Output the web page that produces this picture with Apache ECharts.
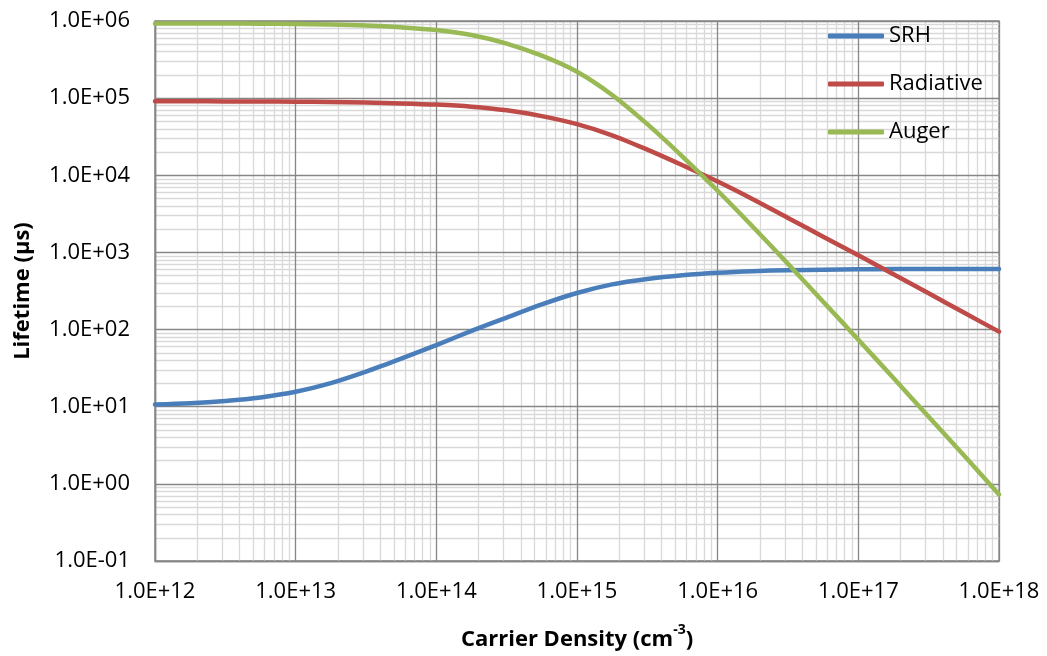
<!DOCTYPE html>
<html>
<head>
<meta charset="utf-8">
<title>Carrier lifetime vs carrier density</title>
<script src="https://cdn.jsdelivr.net/npm/echarts@6/dist/echarts.min.js"></script>
<style>
  html, body { margin: 0; padding: 0; background: #fff; }
  #chart { width: 1047px; height: 656px; }
</style>
</head>
<body>
<div id="chart"></div>
<script>
// Carrier density sample points (cm^-3), quarter-decade spacing
const densities = [
  1e12, 1.778e12, 3.162e12, 5.623e12,
  1e13, 1.778e13, 3.162e13, 5.623e13,
  1e14, 1.778e14, 3.162e14, 5.623e14,
  1e15, 1.778e15, 3.162e15, 5.623e15,
  1e16, 1.778e16, 3.162e16, 5.623e16,
  1e17, 1.778e17, 3.162e17, 5.623e17,
  1e18
];

// Lifetimes (µs) for each recombination mechanism
const srh = [
  10.7, 11.1, 11.9, 13.2,
  15.6, 20.2, 28.5, 42,
  63, 96, 143, 212,
  298, 385, 452, 505,
  545, 572, 588, 598,
  604, 608, 610, 611,
  612
];
const radiative = [
  9.1e4, 9.1e4, 9.08e4, 9.05e4,
  9.0e4, 8.9e4, 8.75e4, 8.55e4,
  8.25e4, 7.75e4, 6.95e4, 5.85e4,
  4.6e4, 3.3e4, 2.15e4, 1.35e4,
  8.3e3, 4.9e3, 2.8e3, 1.6e3,
  920, 520, 295, 166,
  94
];
const auger = [
  9.3e5, 9.3e5, 9.28e5, 9.22e5,
  9.13e5, 8.98e5, 8.72e5, 8.28e5,
  7.65e5, 6.6e5, 5.1e5, 3.55e5,
  2.2e5, 1.1e5, 4.6e4, 1.75e4,
  6.3e3, 2.15e3, 710, 230,
  74, 23.5, 7.4, 2.35,
  0.73
];

const seriesNames = ['SRH', 'Radiative', 'Auger'];
const seriesColors = ['#4A7EBB', '#BE4B48', '#98B954'];

// Axis ranges (decades)
const xDecades = [12, 13, 14, 15, 16, 17, 18];
const yDecades = [-1, 0, 1, 2, 3, 4, 5, 6];

const FONT = '"Open Sans", "Liberation Sans", sans-serif';

// 1.0E+06 style labels
function sci(v) {
  const e = Math.round(Math.log10(v));
  const m = v / Math.pow(10, e);
  return m.toFixed(1) + 'E' + (e < 0 ? '-' : '+') + String(Math.abs(e)).padStart(2, '0');
}

// Minor grid lines at 2..9 × 10^n inside each decade
function minorLines(decades, key) {
  const out = [];
  for (let i = 0; i < decades.length - 1; i++) {
    const base = Math.pow(10, decades[i]);
    for (let k = 2; k <= 9; k++) out.push({ [key]: k * base });
  }
  return out;
}

function pairs(ys) {
  return densities.map((x, i) => [x, ys[i]]);
}

const chart = echarts.init(document.getElementById('chart'), null, { renderer: 'canvas' });

const lineSeries = [srh, radiative, auger].map((ys, i) => ({
  name: seriesNames[i],
  type: 'line',
  data: pairs(ys),
  smooth: 0.3,
  showSymbol: false,
  symbol: 'none',
  z: 3,
  lineStyle: { color: seriesColors[i], width: 4.5, cap: 'round', join: 'round' },
  itemStyle: { color: seriesColors[i] },
  emphasis: { disabled: true },
  animation: false
}));

const gridSeries = {
  name: 'minor-grid',
  type: 'line',
  data: [],
  silent: true,
  animation: false,
  markLine: {
    silent: true,
    z: 0,
    animation: false,
    symbol: ['none', 'none'],
    label: { show: false },
    emphasis: { disabled: true },
    lineStyle: { color: '#D9D9D9', width: 1.3, type: 'solid' },
    data: minorLines(xDecades, 'xAxis').concat(minorLines(yDecades, 'yAxis'))
  }
};

chart.setOption({
  backgroundColor: '#ffffff',
  animation: false,
  textStyle: { fontFamily: FONT },
  grid: {
    left: 155, right: 48, top: 21, bottom: 88,
    show: true, borderColor: '#868686', borderWidth: 1.3,
    containLabel: false
  },
  legend: {
    data: seriesNames,
    orient: 'vertical',
    left: 823,
    top: 19,
    itemGap: 24,
    itemWidth: 56,
    itemHeight: 5,
    icon: 'roundRect',
    selectedMode: false,
    textStyle: { fontFamily: FONT, fontSize: 22, color: '#000', lineHeight: 24 }
  },
  xAxis: {
    type: 'log',
    logBase: 10,
    min: 1e12,
    max: 1e18,
    splitNumber: 6,
    z: 1,
    name: '{t|Carrier Density (cm}{s|-3}{t|)}',
    nameLocation: 'middle',
    nameGap: 62,
    nameTextStyle: {
      rich: {
        t: { fontFamily: FONT, fontSize: 22, fontWeight: 'bold', color: '#000', verticalAlign: 'bottom', lineHeight: 28 },
        s: { fontFamily: FONT, fontSize: 14, fontWeight: 'bold', color: '#000', verticalAlign: 'top', lineHeight: 28, padding: [0, 0, 10, 0] }
      }
    },
    axisLine: { show: true, lineStyle: { color: '#868686', width: 1.3 } },
    axisTick: { show: false },
    axisLabel: { formatter: sci, fontFamily: FONT, fontSize: 22, color: '#000', margin: 20 },
    splitLine: { show: true, lineStyle: { color: '#868686', width: 1.3 } },
    minorTick: { show: false },
    minorSplitLine: { show: false }
  },
  yAxis: {
    type: 'log',
    logBase: 10,
    min: 0.1,
    max: 1e6,
    splitNumber: 7,
    z: 1,
    name: 'Lifetime (µs)',
    nameLocation: 'middle',
    nameGap: 121,
    nameRotate: 90,
    nameTextStyle: { fontFamily: FONT, fontSize: 22, fontWeight: 'bold', color: '#000' },
    axisLine: { show: true, lineStyle: { color: '#868686', width: 1.3 } },
    axisTick: { show: false },
    axisLabel: { formatter: sci, fontFamily: FONT, fontSize: 22, color: '#000', margin: 25 },
    splitLine: { show: true, lineStyle: { color: '#868686', width: 1.3 } },
    minorTick: { show: false },
    minorSplitLine: { show: false }
  },
  series: [gridSeries].concat(lineSeries)
});
</script>
</body>
</html>
